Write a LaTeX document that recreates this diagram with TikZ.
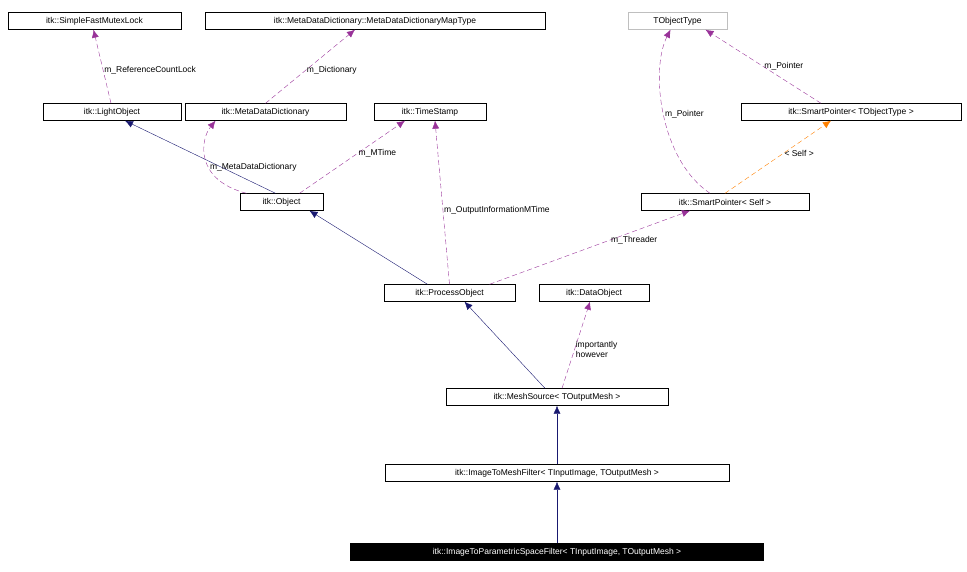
\documentclass[tikz,border=0pt]{standalone}
\usepackage{fontspec}
\setmainfont{Liberation Sans}
\usetikzlibrary{arrows.meta}
\tikzset{
  cls/.style={draw=black,fill=white,minimum height=17pt,inner sep=2pt,font=\fontsize{8.5}{10}\selectfont},
  inh/.style={draw=navy,-{Latex[length=8pt,width=7pt]}},
  use/.style={draw=violet!80!white,dashed,dash pattern=on 5pt off 3pt,-{Latex[length=8pt,width=7pt]}},
  tpl/.style={draw=orange,dashed,dash pattern=on 5pt off 3pt,-{Latex[length=8pt,width=7pt]}},
  lbl/.style={font=\fontsize{8.5}{10}\selectfont,inner sep=1pt}
}
\definecolor{navy}{RGB}{25,25,112}
\begin{document}
\begin{tikzpicture}[x=1pt,y=-1pt]
    \useasboundingbox (0,0) rectangle (967,572);
    \node[cls,minimum width=173pt] (Mutex) at (94.5,21) {itk::SimpleFastMutexLock};
    \node[cls,minimum width=340pt] (MapT) at (375,21) {itk::MetaDataDictionary::MetaDataDictionaryMapType};
    \node[cls,minimum width=99pt,draw=gray!50] (TObj) at (677.5,21) {TObjectType};
    \node[cls,minimum width=138pt] (Light) at (112,112) {itk::LightObject};
    \node[cls,minimum width=161pt] (MDD) at (265.5,112) {itk::MetaDataDictionary};
    \node[cls,minimum width=112pt] (TS) at (430,112) {itk::TimeStamp};
    \node[cls,minimum width=220pt] (SPT) at (851,112) {itk::SmartPointer< TObjectType >};
    \node[cls,minimum width=83pt] (Obj) at (281.5,202) {itk::Object};
    \node[cls,minimum width=168pt] (SPS) at (725,202) {itk::SmartPointer< Self >};
    \node[cls,minimum width=131pt] (PO) at (449.5,293) {itk::ProcessObject};
    \node[cls,minimum width=110pt] (DO) at (594,293) {itk::DataObject};
    \node[cls,minimum width=222pt] (MS) at (557,397) {itk::MeshSource< TOutputMesh >};
    \node[cls,minimum width=344pt] (IMF) at (557,473) {itk::ImageToMeshFilter< TInputImage, TOutputMesh >};
    \node[cls,minimum width=413pt,fill=black,text=white] (IPS) at (557,552) {itk::ImageToParametricSpaceFilter< TInputImage, TOutputMesh >};

    % inheritance
    \draw[inh] ([xshift=-6pt]Obj.north) -- ([xshift=13pt]Light.south);
    \draw[inh] ([xshift=-22pt]PO.north) -- ([xshift=28pt]Obj.south);
    \draw[inh] ([xshift=-12pt]MS.north) -- ([xshift=15pt]PO.south);
    \draw[inh] (IMF.north) -- (MS.south);
    \draw[inh] (IPS.north) -- (IMF.south);

    % members
    \draw[use] ([xshift=-1pt]Light.north) -- node[lbl,right,pos=0.45] {m\_ReferenceCountLock} ([xshift=-1pt]Mutex.south);
    \draw[use] (MDD.north) -- node[lbl,right,pos=0.45] {m\_Dictionary} ([xshift=-20pt]MapT.south);
    \draw[use] ([xshift=-35pt]Obj.north) .. controls (195,180) and (200,140) .. node[lbl,right,pos=0.4] {m\_MetaDataDictionary} ([xshift=-50pt]MDD.south);
    \draw[use] ([xshift=18pt]Obj.north) -- node[lbl,right,pos=0.55] {m\_MTime} ([xshift=-25pt]TS.south);
    \draw[use] ([xshift=0pt]PO.north) -- node[lbl,right,pos=0.45] {m\_OutputInformationMTime} ([xshift=5pt]TS.south);
    \draw[use] ([xshift=40pt]PO.north) -- node[lbl,right,pos=0.6] {m\_Threader} ([xshift=-35pt]SPS.south);
    \draw[use] ([xshift=-15pt]SPS.north) .. controls (660,160) and (650,70) .. node[lbl,right,pos=0.5] {m\_Pointer} ([xshift=-7pt]TObj.south);
    \draw[use] ([xshift=-30pt]SPT.north) -- node[lbl,right,pos=0.5] {m\_Pointer} ([xshift=28pt]TObj.south);
    \draw[tpl] (SPS.north) -- node[lbl,right,pos=0.55] {< Self >} ([xshift=-20pt]SPT.south);
    \draw[use] ([xshift=5pt]MS.north) -- node[lbl,right,pos=0.45,align=left] {importantly\\however} ([xshift=-4pt]DO.south);
\end{tikzpicture}
\end{document}
